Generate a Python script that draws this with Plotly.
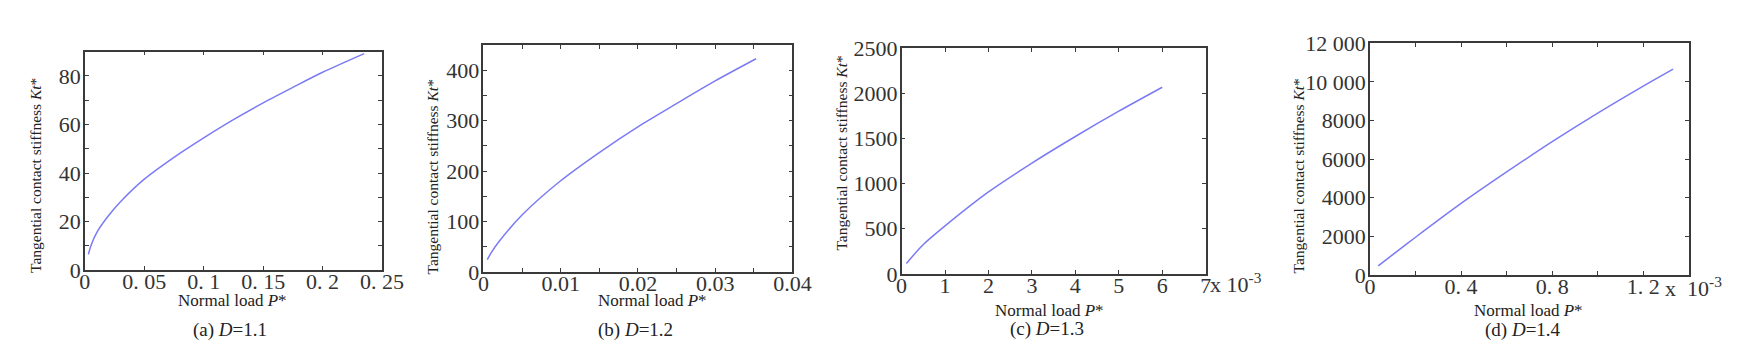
import plotly.graph_objects as go

# (a) D=1.1
p_a = [0.003, 0.005, 0.01, 0.02, 0.03, 0.05, 0.075, 0.1, 0.125, 0.15, 0.175, 0.2, 0.235]
kt_a = [6.5, 10.0, 15.5, 22.5, 28.2, 37.5, 46.5, 54.5, 62.0, 68.9, 75.3, 81.5, 89.2]

# (b) D=1.2
p_b = [0.0005, 0.001, 0.002, 0.005, 0.01, 0.015, 0.02, 0.025, 0.03, 0.0353]
kt_b = [24.5, 38, 60, 113, 181, 237, 288, 334, 379, 423]

# (c) D=1.3  (x in units of 1e-3)
p_c = [0.11, 0.5, 1, 2, 3, 4, 5, 6.0]
kt_c = [116, 325, 531, 907, 1226, 1520, 1800, 2065]

# (d) D=1.4  (x in units of 1e-3)
p_d = [0.036, 0.1, 0.2, 0.4, 0.6, 0.8, 1.0, 1.2, 1.331]
kt_d = [465, 1050, 1950, 3700, 5330, 6900, 8380, 9780, 10658]

captions = ["(a) <i>D</i>=1.1", "(b) <i>D</i>=1.2", "(c) <i>D</i>=1.3", "(d) <i>D</i>=1.4"]

W, H = 1754, 358
LINE = "#7b7bf5"
AXC = "#3a3a3a"
SERIF = "Liberation Serif, Times New Roman, serif"


def px(x):
    return x / W


def py(y):
    return 1 - y / H


fig = go.Figure()

panels = [
    dict(x=p_a, y=kt_a, box=(72, 374, 34, 269), xr=[0, 0.25], yr=[0, 90],
         xt=[0, 0.05, 0.1, 0.15, 0.2, 0.25], xtt=["0", "0. 05", "0. 1", "0. 15", "0. 2", "0. 25"],
         xminor=None, yd=20, yminor=10),
    dict(x=p_b, y=kt_b, box=(477, 791, 27, 271), xr=[0, 0.04], yr=[0, 450],
         xt=[0, 0.01, 0.02, 0.03, 0.04], xtt=["0", "0.01", "0.02", "0.03", "0.04"],
         xminor=0.005, yd=100, yminor=50),
    dict(x=p_c, y=kt_c, box=(902, 1211, 30, 273), xr=[0, 7], yr=[0, 2500],
         xt=[0, 1, 2, 3, 4, 5, 6, 7], xtt=["0", "1", "2", "3", "4", "5", "6", "7"],
         xminor=None, yd=500, yminor=None),
    dict(x=p_d, y=kt_d, box=(1378, 1702, 25, 274), xr=[0, 1.4], yr=[0, 12000],
         xt=[0, 0.4, 0.8, 1.2], xtt=["0", "0. 4", "0. 8", "1. 2"],
         xminor=0.2, yd=2000, yminor=None),
]

ytick_text = {3: ["0", "2000", "4000", "6000", "8000", "10 000", "12 000"]}
TICKFONT = dict(family=SERIF, size=22, color="#333")

for i, p in enumerate(panels):
    n = "" if i == 0 else str(i + 1)
    l, r, t, b = p["box"]
    fig.add_trace(go.Scatter(x=p["x"], y=p["y"], mode="lines",
                             line=dict(color=LINE, width=1.5, shape="spline", smoothing=0.8),
                             xaxis="x" + n, yaxis="y" + n, showlegend=False))
    xa = dict(domain=[px(l), px(r)], range=p["xr"], anchor="y" + n,
              tickmode="array", tickvals=p["xt"], ticktext=p["xtt"],
              ticks="inside", ticklen=4, tickcolor=AXC, showline=True, linecolor=AXC, linewidth=1.5,
              mirror="ticks", showgrid=False, zeroline=False, ticklabelstandoff=-9,
              tickfont=TICKFONT)
    if p["xminor"]:
        xa["minor"] = dict(dtick=p["xminor"], ticks="inside", ticklen=4, tickcolor=AXC)
    yvals = list(range(0, p["yr"][1] + 1, p["yd"]))
    ya = dict(domain=[py(b), py(t)], range=p["yr"], anchor="x" + n,
              tickmode="array", tickvals=yvals,
              ticktext=ytick_text.get(i, [str(v) for v in yvals]),
              ticks="inside", ticklen=4, tickcolor=AXC, showline=True, linecolor=AXC, linewidth=1.5,
              mirror="ticks", showgrid=False, zeroline=False, ticklabelstandoff=-2,
              tickfont=TICKFONT)
    if p["yminor"]:
        ya["minor"] = dict(dtick=p["yminor"], ticks="inside", ticklen=4, tickcolor=AXC)
    fig.layout["xaxis" + n] = xa
    fig.layout["yaxis" + n] = ya

ann = []
ytitle_pos = [(22, 167), (425, 168), (840, 143), (1305, 167)]
xtitle_pos = [(222, 302), (649, 302), (1052, 312), (1539, 312)]
cap_pos = [(220, 333), (632, 333), (1050, 332), (1533, 333)]
for i in range(4):
    x, y = ytitle_pos[i]
    ann.append(dict(text="Tangential contact stiffness <i>Kt</i>*", x=px(x), y=py(y), textangle=-90,
                    showarrow=False, xref="paper", yref="paper", xanchor="center", yanchor="middle",
                    font=dict(family=SERIF, size=15.5, color="#222")))
    x, y = xtitle_pos[i]
    ann.append(dict(text="Normal load <i>P</i>*", x=px(x), y=py(y), showarrow=False,
                    xref="paper", yref="paper", xanchor="center", yanchor="middle",
                    font=dict(family=SERIF, size=17, color="#222")))
    x, y = cap_pos[i]
    ann.append(dict(text=captions[i], x=px(x), y=py(y), showarrow=False,
                    xref="paper", yref="paper", xanchor="center", yanchor="middle",
                    font=dict(family=SERIF, size=19, color="#222")))

# multiplier labels
ann.append(dict(text="x 10<sup>-3</sup>", x=px(1213), y=py(283), showarrow=False, xref="paper", yref="paper",
                xanchor="left", yanchor="middle", font=dict(family=SERIF, size=22, color="#333")))
ann.append(dict(text="x  10<sup>-3</sup>", x=px(1676), y=py(287), showarrow=False, xref="paper", yref="paper",
                xanchor="left", yanchor="middle", font=dict(family=SERIF, size=22, color="#333")))

fig.update_layout(width=W, height=H, margin=dict(l=0, r=0, t=0, b=0),
                  paper_bgcolor="white", plot_bgcolor="white", annotations=ann)

fig.write_html("out.html")
